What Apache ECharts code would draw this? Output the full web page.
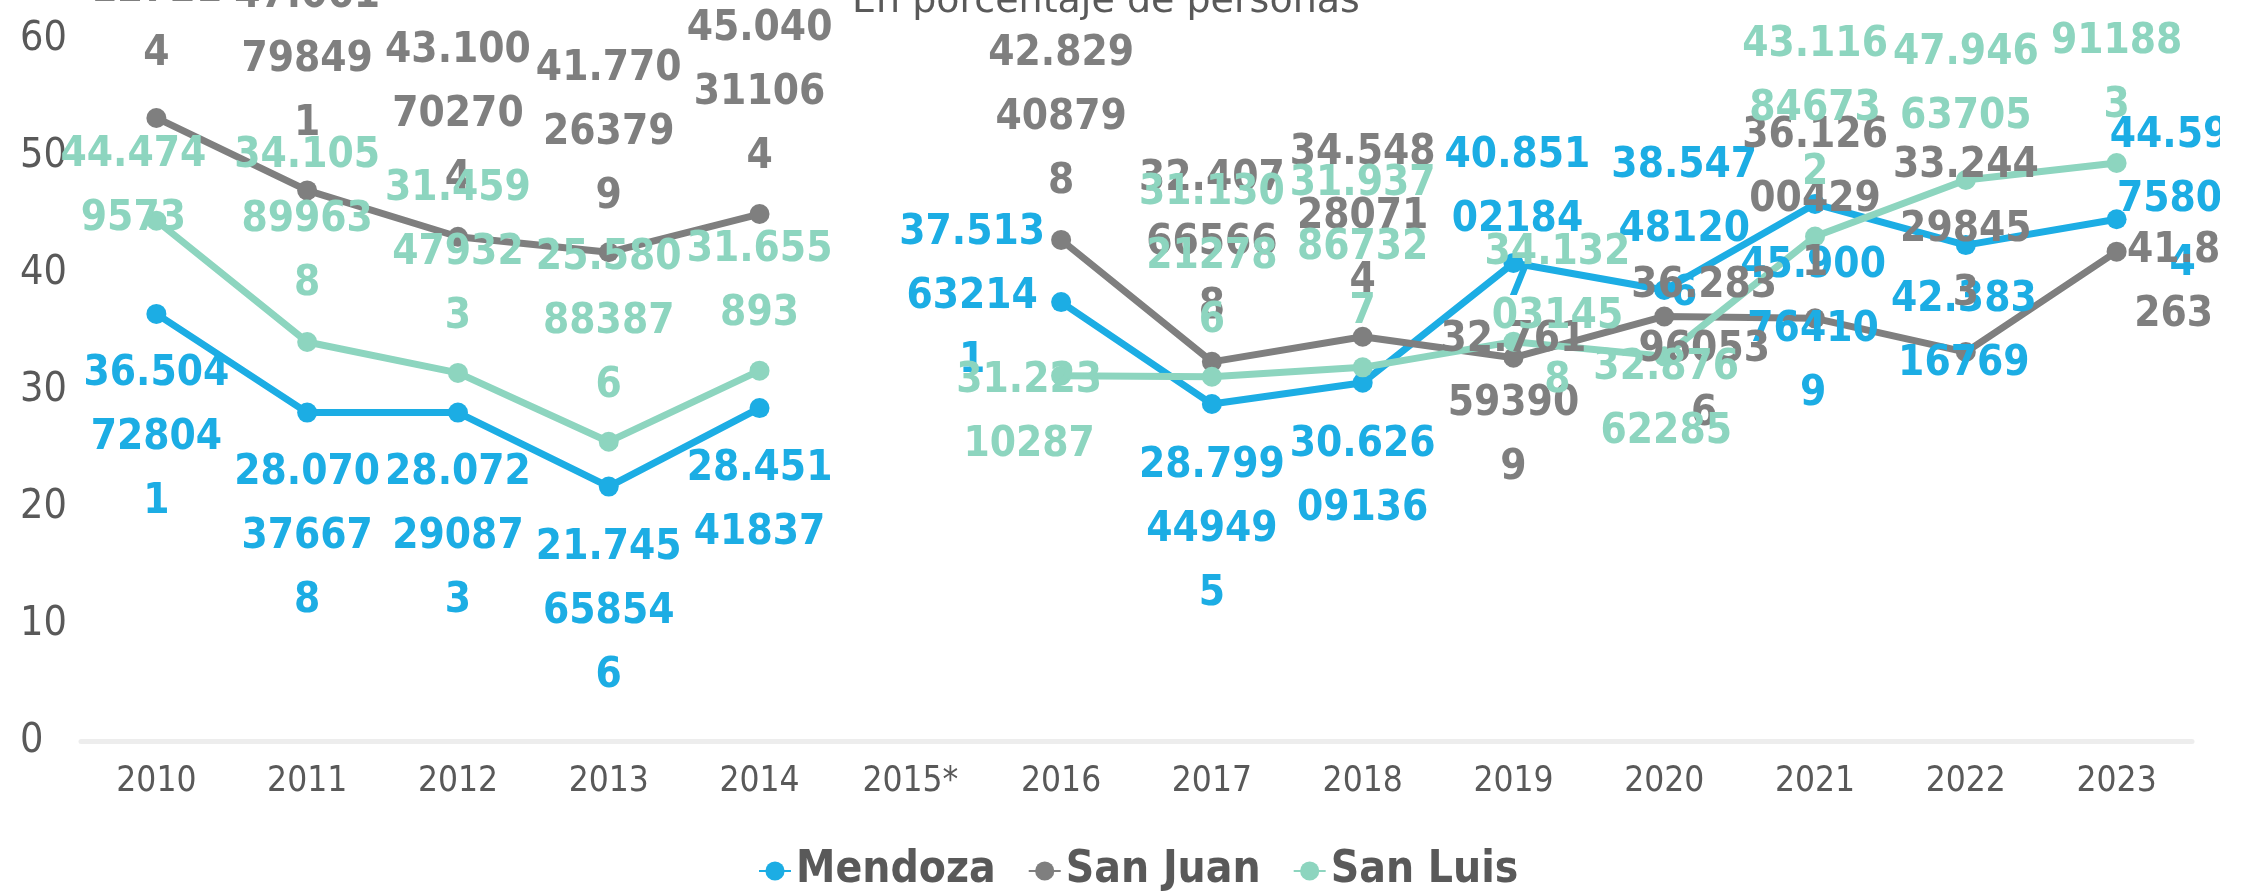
<!DOCTYPE html>
<html><head><meta charset="utf-8">
<script src="https://cdn.jsdelivr.net/npm/echarts@6/dist/echarts.min.js"></script>
<style>html,body{margin:0;padding:0;background:#fff;overflow:hidden}#c{width:2220px;height:891px}</style>
</head><body><div id="c"></div><script>
// ---------- data ----------
const categories = ['2010','2011','2012','2013','2014','2015*','2016','2017','2018','2019','2020','2021','2022','2023'];
const mendoza = [36.504728041, 28.070376678, 28.072290873, 21.745658546, 28.45141837, null, 37.513632141, 28.799449495, 30.62609136, 40.851021847, 38.547481206, 45.900764109, 42.38316769, 44.596758054];
const sanJuan = [53.251127214, 47.061798491, 43.100702704, 41.770263799, 45.040311064, null, 42.829408798, 32.407665668, 34.548280714, 32.761593909, 36.283960536, 36.126004291, 33.244298453, 41.8263];
const sanLuis = [44.4749573, 34.105899638, 31.459479323, 25.580883876, 31.655893, null, 31.22310287, 31.130212786, 31.937867327, 34.132031458, 32.87662285, 43.116846732, 47.94663705, 49.402911883];
const seriesNames = ['Mendoza', 'San Juan', 'San Luis'];
const yTicks = [0, 60, 10]; // min, max, interval
const titleText = 'En porcentaje de personas';

// ---------- layout (label placement, relative to each point) ----------
const offMendoza = [[0,124],[0,125],[0,125],[0,126],[0,93],null,[-89,-5],[0,126],[0,94],[4,-43],[20,-60],[-2,126],[-2,87],[66,-19]];
const offSanJuan = [[0,-128],[0,-130],[0,-122],[0,-119],[0,-121],null,[0,-122],[0,-119],[0,-120],[0,46],[40,34],[0,-118],[0,-122],[57,31]];
const offSanLuis = [[-23,-34],[0,-122],[0,-120],[0,-120],[0,-89],null,[-32,37],[0,-120],[0,-119],[44,-25],[2,44],[0,-127],[0,-95],[0,-121]];
const wrapDefault = [6,5,5,5];
const wrapSanJuan = {13: [4,3]};

const colors = ['#1CADE4', '#7F7F7F', '#8DD5BF'];
const FF = '"DejaVu Sans Condensed", "DejaVu Sans", sans-serif';

function wrapText(v, sizes) {
  const s = String(v);
  const out = [];
  let pos = 0, k = 0;
  while (pos < s.length) {
    const n = sizes[Math.min(k, sizes.length - 1)];
    out.push(s.slice(pos, pos + n));
    pos += n; k++;
  }
  return out.join('\n');
}

function buildSeries(name, values, offsets, color, wraps) {
  return {
    name: name,
    type: 'line',
    connectNulls: false,
    symbol: 'circle',
    symbolSize: 20,
    lineStyle: { width: 7, color: color },
    itemStyle: { color: color },
    emphasis: { disabled: true },
    data: values.map((v, i) => v == null ? null : {
      value: v,
      label: { offset: offsets[i] }
    }),
    label: {
      show: true,
      position: 'inside',
      color: color,
      fontFamily: FF,
      fontWeight: 'bold',
      fontSize: 42,
      lineHeight: 64,
      align: 'center',
      verticalAlign: 'middle',
      formatter: p => wrapText(p.value, (wraps && wraps[p.dataIndex]) || wrapDefault)
    }
  };
}

const chart = echarts.init(document.getElementById('c'), null, { renderer: 'canvas' });
chart.setOption({
  backgroundColor: '#ffffff',
  animation: false,
  color: colors,
  title: {
    text: titleText,
    left: 847,
    top: -22,
    textStyle: { fontFamily: '"DejaVu Sans", sans-serif', fontWeight: 'normal', fontSize: 38, color: '#595959' }
  },
  legend: {
    data: seriesNames,
    left: 753,
    top: 844,
    itemWidth: 32,
    itemHeight: 24,
    itemGap: 32,
    textStyle: { fontFamily: FF, fontWeight: 'bold', fontSize: 44, color: '#595959' }
  },
  grid: { left: 81, right: 28, top: 39, bottom: 150, outerBoundsMode: 'none' },
  xAxis: {
    type: 'category',
    data: categories,
    axisLine: { show: true, lineStyle: { color: '#EDEDED', width: 5 } },
    axisTick: { show: false },
    axisLabel: { fontFamily: FF, fontSize: 35, color: '#595959', margin: 23 }
  },
  yAxis: {
    type: 'value',
    min: yTicks[0], max: yTicks[1], interval: yTicks[2],
    axisLine: { show: false },
    axisTick: { show: false },
    splitLine: { show: false },
    axisLabel: { fontFamily: FF, fontSize: 41, color: '#595959', align: 'left', margin: 61 }
  },
  series: [
    buildSeries(seriesNames[0], mendoza, offMendoza, colors[0], null),
    buildSeries(seriesNames[1], sanJuan, offSanJuan, colors[1], wrapSanJuan),
    buildSeries(seriesNames[2], sanLuis, offSanLuis, colors[2], null)
  ]
});
</script></body></html>
